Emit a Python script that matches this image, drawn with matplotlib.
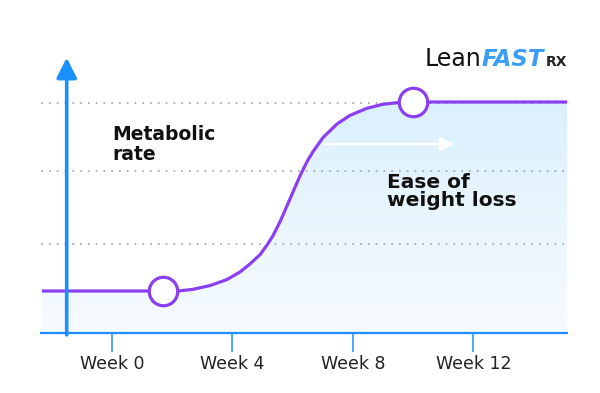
import numpy as np
import matplotlib.pyplot as plt
from matplotlib.colors import LinearSegmentedColormap

# данные (x - недели, y - условный уровень)
weeks = [0, 4, 8, 12]
week_labels = ['Week 0', 'Week 4', 'Week 8', 'Week 12']
curve_x = [-2.33, 1.69, 2.26, 2.69, 3.26, 3.82, 4.25, 4.58, 4.92, 5.15, 5.35,
           5.58, 5.81, 6.05, 6.25, 6.48, 6.68, 7.01, 7.48, 7.91, 8.47, 9.00,
           9.47, 10.0, 15.12]
curve_y = [0.596, 0.596, 0.599, 0.620, 0.674, 0.760, 0.867, 0.981, 1.117, 1.252,
           1.389, 1.584, 1.809, 2.049, 2.246, 2.446, 2.589, 2.789, 2.984, 3.106,
           3.206, 3.263, 3.286, 3.296, 3.296]
grid_levels = [1.27, 2.31, 3.28]
marker_x = [1.69, 10.0]
marker_y = [0.596, 3.296]

purple = '#8b3ff2'
blue = '#1a8fff'

fig = plt.figure(figsize=(6, 3.93), dpi=100)
fig.patch.set_facecolor('white')
ax = fig.add_axes([0, 0, 1, 1])
ax.axis('off')

# заливка под кривой с вертикальным градиентом
poly = ax.fill_between(curve_x, curve_y, 0, color='none', zorder=1)
cmap = LinearSegmentedColormap.from_list('fill', ['#f7fbff', '#dbf0fd'])
grad = np.linspace(0, 1, 256).reshape(-1, 1)
img = ax.imshow(grad, cmap=cmap, extent=(curve_x[0], curve_x[-1], 0, max(curve_y)),
                origin='lower', aspect='auto', zorder=1)
img.set_clip_path(poly.get_paths()[0], transform=ax.transData)

# пунктирная сетка
for lvl in grid_levels:
    ax.plot([-2.33, 15.12], [lvl, lvl], color='#a8a8a8', lw=1.4,
            linestyle=(0, (0.1, 3.9)), dash_capstyle='round', zorder=2)

# белая стрелка
ax.annotate('', xy=(11.36, 2.696), xytext=(7.05, 2.696),
            arrowprops=dict(arrowstyle='-|>,head_length=0.6,head_width=0.3',
                            color='white', lw=1.5, mutation_scale=14,
                            shrinkA=0, shrinkB=0), zorder=3)

# кривая и маркеры
ax.plot(curve_x, curve_y, color=purple, lw=2.3, solid_capstyle='butt',
        solid_joinstyle='round', zorder=4)
ax.plot(marker_x, marker_y, 'o', ms=20.5, mfc='white', mec=purple, mew=2.3, zorder=5)

# оси
ax.plot([-2.39, 15.15], [0, 0], color=blue, lw=1.6, solid_capstyle='butt', zorder=6)
ax.vlines(weeks, -0.276, 0, color=blue, lw=1.1, zorder=6)
ax.annotate('', xy=(-1.505, 3.93), xytext=(-1.505, -0.03),
            arrowprops=dict(arrowstyle='-|>,head_length=0.7,head_width=0.35',
                            color=blue, lw=2.6, mutation_scale=17.5,
                            shrinkA=0, shrinkB=0), zorder=6)

for w, lab in zip(weeks, week_labels):
    ax.text(w, -0.44, lab, ha='center', va='center', fontsize=12.5, color='#222222')

# подписи
ax.text(0.02, 2.753, 'Metabolic', fontsize=13.5, fontweight='bold', color='#111111',
        va='baseline')
ax.text(0.02, 2.467, 'rate', fontsize=13.5, fontweight='bold', color='#111111',
        va='baseline')
ax.text(9.14, 2.067, 'Ease of', fontsize=14.5, fontweight='bold', color='#111111',
        va='baseline')
ax.text(9.14, 1.81, 'weight loss', fontsize=14.5, fontweight='bold', color='#111111',
        va='baseline')

# логотип
lean = ax.text(10.4, 3.81, 'Lean', fontsize=17, color='#111111', va='baseline')
fast = ax.annotate('FAST', xy=(1, 3.81), xycoords=(lean, 'data'), fontsize=16.5,
                   fontweight='bold', fontstyle='italic', color='#3a9df8',
                   va='baseline', ha='left')
ax.annotate('RX', xy=(1, 3.81), xycoords=(fast, 'data'), xytext=(1, 0),
            textcoords='offset points', fontsize=10, fontweight='bold',
            color='#222222', va='baseline', ha='left')

ax.set_xlim(-3.72, 16.21)
ax.set_ylim(-0.861, 4.753)

fig.savefig('out.png', dpi=100, facecolor='white')
